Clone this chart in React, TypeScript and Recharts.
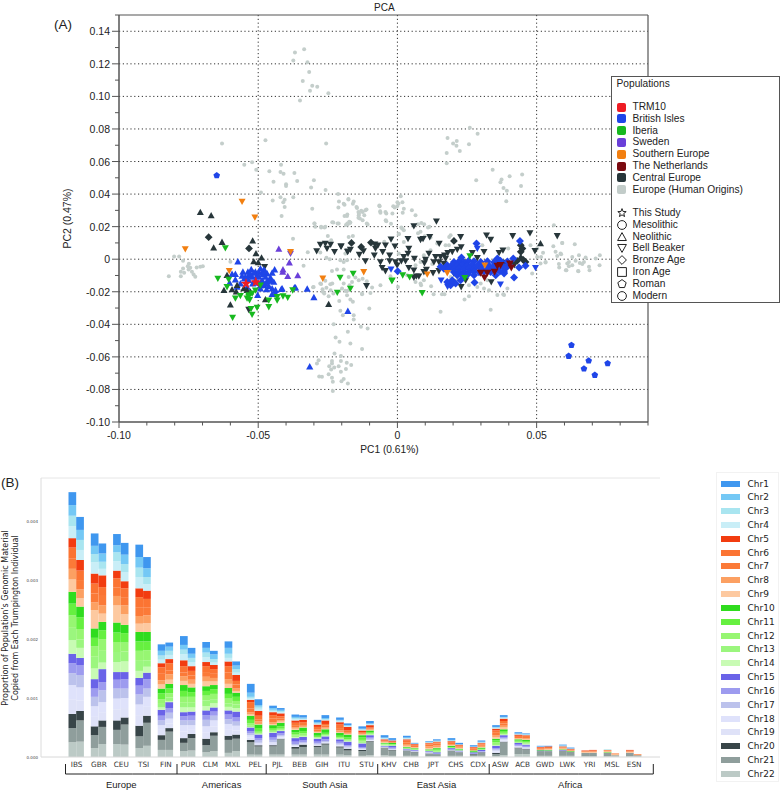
import React from 'react';
import { ScatterChart, Scatter, BarChart, Bar, XAxis, YAxis, CartesianGrid, ReferenceLine, Legend } from 'recharts';

// ---------- Panel A: PCA values, in thousandths of a PC unit, [PC1, PC2] ----------
const humanOrigins = [
[-36.8,127],[-33.5,129],[-37.4,122],[-32.3,121],[-31.7,115],[-34,109.5],[-30.6,106.5],[-28.8,106],[-31.4,103.5],[-24.8,102],[-35,97.5],[-63,71],[-47.4,73],[-25.6,71],[-55,58],[-52.2,59.5],[-50.7,55],[-41.8,58],[-46,54],[-42,53.5],[-40.9,52.5],[-37,53],[-36,48],[-44.5,47.5],[-40,46],[-40,45],[-30,48.5],[-31,44],[-25.8,42.5],[-49,41],[-42,38],[-40.5,36.5],[-44.8,36],[-37.4,38],[-41,35],[-21.3,40],[-21,35.5],[-17.6,37],[-19.3,34],[-15.7,35.5],[-40.5,32],[-30.6,31],[-21.2,31.7],[-14.7,32],[-6.5,33],[-1.5,32.5],[0,35],[-6.2,29.5],[-4.3,29],[-1.8,28],[-14,29],[-12.5,29],[-11.5,30],[-19,26.5],[-18,27.5],[-13.9,27],[-12.5,24],[-4.2,24],[-41.6,26.5],[-14,25.5],[-11,22],[-23.4,22.7],[-21.5,22],[-18,22],[-17.3,23],[-18.5,21],[-29.8,22],[-29.5,20],[-27.4,20],[-25.9,20],
[26,80.8],[28.8,77],[18,74.5],[21.3,72.6],[20,71],[25.7,70.6],[21.2,69.7],[22.4,66.5],[17.7,65.3],[17.7,59],[34.2,55],[44.8,52],[40.3,51],[28.3,48.5],[37.4,49],[37,47.3],[44.4,45],[38.1,43.8],[39.3,42],[39.1,35.6],[1.2,38.7],[0.4,34],[1.8,35],[2.3,31],[1.9,28.6],[5.2,30],[-6.4,32.5],[-6.1,28.6],[-4,28],[-1,31.7],[-0.1,32.5],[-4,23.3],[6.5,27],[-17.6,36.6],[-16,34],[-19,33.5],[-14.5,31.5],[-11.1,30.5],[-13,29.7],[-13.8,28],[-11.9,27],[-18.1,26.6],[-13.5,25],[-16.9,22.5],[-17.9,21.3],[-10.7,21.3],[-2.3,21.7],[8.6,22.3],[7.4,21.5],[11,19.5],[8.3,16.8],[1.4,19.5],[2.3,17.8],[0.5,15.4],[9.8,14.1],[11.9,13.3],[18.6,13.7],[56.2,20.9],[56,8],[59.2,10],[63.7,9.2],[17.3,8.6],[30.5,8.6],[39.8,6.6],[-17.5,13.7],[-16,14.3],[-4.7,10.7],
[56.8,4.5],[58.8,3],[62.8,1.4],[67.6,1],[72.7,2.4],[71.2,0.4],[51.6,1.4],[50.2,1.4],[53.2,-2],[51.4,-2.7],[58,-3],[65.5,-2.3],[62.8,-3.7],[61,-2.7],[67,-1.7],[58.1,-5.1],[61.6,-4.3],[60.5,-6.8],[65,-7.4],[68.8,-4.7],[69,-6.8],[72.6,-3.7],[66.4,-3],[64,-1],[52.3,4],[38,-21.5],
[-82.1,-10.4],[-80.2,1.7],[-78.4,1.7],[-77,-1],[-74.9,-2.8],[-75.3,-4.3],[-77,-5.7],[-75,-6.3],[-77.8,-7.7],[-76.6,-8.3],[-77.8,-10.4],[-73.8,-7.7],[-73.2,-9.4],[-72.6,-10.8],[-72.1,-5.1],[-70.8,-4.7],[-69.9,-4.3],[-74.4,-5.3],[-60,-1.6],[-37.5,12.5],[-33.7,-4],[-32.2,4.3],[-29.8,22],[-27.4,19.5],[-26.2,19.5],[-23,22.5],[-21.1,21.9],[-27.7,4.1],[-25,14.3],[-25.5,0.9],[-24.3,0],[-23.8,11.7],[-23.5,-7.3],[-21.7,-6.3],[-19.3,-6.3],[-27.4,-15.3],[-25.5,-17.5],[-24,-19],[-26.8,-20],[-30.3,-17.3],[-23,-21],[-20.5,-0.6],[-18.1,-0.6],
[-30.1,-17],[-27.7,-15],[-25.9,-13.3],[-24.1,-15.4],[-23.4,-15],[-26.9,-18.4],[-26.3,-21],[-24.7,-22.7],[-20.9,-25.6],[-18.4,-19.6],[-17.2,-16],[-18.1,-22.1],[-16.9,-24.8],[-16,-26.2],[-12.7,-21.5],[-10.1,-30.3],[-20.5,-31.7],[-19.6,-34.4],[-15.7,-34.4],[-15.7,-37],[-22.9,-39.9],[-13.1,-41.5],[-10.7,-42.6],[-17.8,-44.6],[-22.2,-48.1],[-20.8,-50.7],[-16.9,-51.8],[-12.7,-55.2],[-22.6,-57.9],[-20.3,-59.5],[-28.3,-62],[-28.9,-64],[-23.5,-62.6],[-23.5,-64],[-20.3,-62.6],[-18.2,-63.6],[-16.6,-65],[-21.1,-65.7],[-24.5,-65.7],[-22.7,-66.5],[-23.8,-67.7],[-18.5,-67.5],[-20.3,-69.1],[-24.7,-70.6],[-28.1,-72],[-27.1,-72.2],[-23.5,-72.8],[-23.2,-75.3],[-19.3,-73.6],[-20.1,-74.9],[-17.8,-76.3],[-23.2,-81],[15.5,-32.3],[8.5,-16],[12.1,-16.6],[13,-21.5],[16,-21.5],[16.9,-21.5],[-6.1,-16],[-9.1,-17.4],[-9.7,-20.7],
[-17.1,22.3],[-18.7,3.5],[-19.3,-1.7],[-19.9,-18],[-18.7,-19.4],[-17.5,-19],[-19.3,-15],[-16.3,-14],[-13.9,-13],[-17.5,-11],[-15.1,-11.3],[-12.5,-12],[-11,-13.5],[-12.7,-21],[0.2,-17],[-2.5,-10.5],[6.5,-14],[8.3,-15],[9.5,-13],[25.7,-22.7],[24.1,-24.8],[33.5,-31],[25.7,-16],[28.7,-17],[31.1,-18],[32.9,-19],[35.9,-22],[38.3,-22],[39.5,-18],[21.5,-13],[19.1,-11],[12.5,-3],[16.7,-3.7],[8.3,-1.7],[9.5,2.4],[6.5,-3.7],[3.5,-9.9],[0.5,3.5],[2.3,10.6],[0.5,15.7],[1.7,18.8],[7.4,16],[9.6,21.5],[11.5,20],[17.9,4],[15.5,-2.7],[11.9,5.5],[14.3,9.6],[19.1,14.7],[18.5,8.6],[32.3,-13],[29.9,-15],[48.4,-8.8],[47.8,8.6],[50.2,6.5],[59.2,10],[58.6,3.5],[57.4,2],[65.2,2.4],[61.6,-1.7],[60.7,-6.8],[64.9,-7.2],[53.2,-1.7]
];
const centralBeaker = [
[-47.7,-4.7],[-53.4,-31],[14,23.3],[5.9,20.4],[-2.3,12.2],[3.8,12.6],[8.3,12],[9.2,12.6],[11.6,13.7],[22.7,13.7],[32,14.7],[33.5,12],[41.4,14.3],[47.6,16.1],[57.4,14.3],[-20.3,8],[-16.9,5.9],[-17.9,4.5],[-13.7,2.8],[-8.1,9.2],[-7,8.6],[-7.9,6.5],[-4.3,8.6],[-0.9,8],[-5.3,4.5],[-8.3,2.4],[-2.8,2.4],[4.1,6.5],[3.8,3.5],[2.3,1.4],[6.1,0.4],[11.3,3.5],[15,9.6],[22.9,7.5],[21.5,5.9],[19.7,4.5],[18.1,4],[16.9,2.4],[13.7,1.4],[15.5,1.4],[17.3,0.4],[13.1,-1.7],[10.1,-0.2],[9.7,-2.3],[14.9,-1.7],[16.7,-2.7],[-11.5,-1.1],[-6.1,-1.7],[-2.8,-1.1],[-0.7,-1.7],[-0.1,-3.7],[1.4,-1.1],[2.9,-1.1],[-5.5,-5.3],[-4.3,-7.2],[4.1,-5.3],[5.9,-6.8],[6.8,-10.5],[5.9,-11.3],[7.7,-10.5],[10.4,-6.4],[9.5,-7.8],[12.8,-8.4],[14.9,-7.2],[-11.1,-16.4],[22.9,-17],[24.5,-13],[33.7,-14],[28.7,0.8],[26.9,3.9],[31.1,4.5],[36.5,3.9],[37.9,5.5],[49.4,5.1],[20.3,-8.8],[20.9,-5.8],[-27.7,9],[-25.9,9.6],[-24,9],[-25.3,6.6],[-22.6,4.5],[-20.2,8],[-17.8,4.9],[-29,5],[-12.2,5],[26.5,-6.5],[38.5,-2],[42,-3.5]
];
const centralBronze = [[-67.8,13.5],[-53.3,6.6],[-16.5,10],[-9.5,10.2],[20.3,11.2],[44.3,8.6],[44.9,6.5],[44.3,4.5],[45.1,-0.2],[46,-1.7],[-13,7.5],[43,-1]];
const centralNeolithic = [[-70.8,28.9],[-66.9,26.8],[-63,10.5],[-66,7],[-52,11.3],[-50.8,3.5],[-48.8,0.9],[-51.6,-1.4],[-50,-2],[-61.2,-9.8],[-62.3,-19],[-57.6,-16],[-59.4,-18.6],[-57.9,-20],[-55.2,-18],[-54,-19],[-52.8,-20],[-47.4,-24.7],[-60,-28],[-24.7,-27.6],[51.4,9.6],[44.3,1.4]];
const britishNeolithic = [
[-57.3,-1.5],[-58.2,-9.2],[-59.4,-9.2],[-55.5,-7.8],[-53.7,-7.8],[-52.5,-6.2],[-51,-7.8],[-49.2,-5.8],[-48,-6.4],[-49.8,-7.8],[-48.6,-8.4],[-46.8,-8.8],[-44.1,-6.4],[-45,-8.4],[-53.4,-9.8],[-54.6,-10.9],[-52.2,-10.9],[-49.8,-10.9],[-47.4,-10.9],[-45.6,-11.3],[-60.3,-14.5],[-58.2,-12.5],[-48.6,-12.9],[-46.8,-13.5],[-44.4,-14],[-48,-16],[-46.2,-16.6],[-49.2,-16],[-45,-18],[-47,-18.6],[-43.8,-19],[-41.4,-18],[-36.6,-17.4],[-32.4,-18.2],[-30,-23.5],[-45,-21.5],[-43.8,-21],[-50.2,-22.1],[-54,-17],[-51,-12.9],[-53.4,-12.9],[-56.4,-15],[-57.6,-17],[-50.4,-9.8],[-48.3,-9.2],[-46.2,-13.3],[-49.2,-18],[-51.6,-8.4],[-52.8,-8.8],[-17.8,-31.9],[-31.5,-66],[-41.7,-18.4],[-37,-17.4],[-55,-12],[-47.5,-7.5],[-55.8,-10.2],[-50,-14.5],[-52,-15],[-47.3,-15.2],[-45.5,-12.8]
];
const britishRoman = [[-64.9,51.4],[62.5,-52.8],[61.5,-59.5],[68.7,-62.4],[67,-67.3],[70.9,-71.2],[75.5,-64]];
const britishBronze = [
[28.4,9.6],[44,11.2],[23,1],[0.1,-7.4],[46,-4.1],[43.7,-5.1],[41.6,0.4],[35.9,0.4],[41.9,-11.3],[27.7,-14.3],[19.1,-16],[17.9,-14],[19.7,-13],[20.9,-15],[22.7,-13],[15.5,-4.7],[38.3,-7.8],[39.2,-5.1],[38.3,-8.8],[35.3,-9.8],
[20.3,-1.7],[22.1,-1.4],[23.9,-1.9],[25.6,-1],[27.5,-1.2],[29.9,-1.7],[32.3,-1.2],[34.7,-1.9],[37,-0.9],[39.5,-1.4],
[17.9,-3.7],[19.7,-3.4],[21.5,-3.9],[23.3,-3.5],[25.1,-3.8],[26.9,-3.2],[28.7,-3.9],[30.5,-3.4],[32.9,-3.8],[35.3,-3.3],[37.7,-3.7],[40,-3.2],
[16.7,-5.8],[18.5,-5.6],[20.3,-6],[22.1,-5.5],[23.9,-6],[25.7,-5.6],[27.5,-6],[29.9,-5.5],[32.3,-5.9],[34.1,-5.5],[35.9,-6],[38.3,-5.6],
[20.3,-7.8],[22.1,-8],[23.9,-7.6],[25.7,-8],[27.5,-7.6],[29.3,-8],[31.1,-7.7],[33.5,-7.9],[36.8,-7.5],
[21.5,-9.8],[23.3,-10],[25.1,-9.6],[27.5,-9.9]
];
const britishBeaker = [[28.7,6.5],[-2.3,-6.2],[49.6,-5.3],[37,-15.4],[15.7,-12.9],[18,-16.8]];
const iberiaBeaker = [[-61.8,6.9],[-60.6,-12.5],[-64.5,-11.9],[-61.2,-17],[-56.4,-22.5],[-58.2,-24],[-53.4,-22],[-54,-24],[-53.1,-25],[-52.2,-21],[-51,-19.1],[-49.2,-16],[-53.4,-23],[-50.4,-29.7],[-52.6,-30.5],[-52.2,-34],[-46.2,-29.3],[-59.2,-35.8],[-46.2,-25.2],[-43.2,-25.2],[-43.2,-23.1],[-41.1,-22.7],[-39.4,-23.5],[-37.6,-19],[-20.6,-11.3],[-21.6,-20.5],[-16.9,-18],[-15.9,-8.8],[-1.9,-13],[1.9,-9.8],[4.4,-10.9],[8.9,-20.7],[24.2,-11.5],[26,2],[-2,-13.3]];
const swedenNeolithic = [[-42.6,6.3],[-38.8,-2.1],[-41.1,-6.4],[-41.2,-7.8],[-39.4,-10.5],[-35.8,-10]];
const swedenBeaker = [[-38.4,3.5]];
const southernBeaker = [[-55.8,35.4],[-51.2,25.7],[-76.2,6.2],[-60.4,-7.1],[-38.4,4.5],[-26.8,-11.8],[-12.1,-7.8],[10.7,-9.2],[17.9,-8.4],[31.4,-3.7]];
const netherlandsBeaker = [[35.9,-4.1],[37,-3.7],[40.4,-2.7],[40.9,-5.1],[29.9,-8.4],[32.3,-8.4],[31.3,-11.3],[34.9,-7.8]];
const trm10 = [[-54.4,-15],[-50.9,-14.1]];

const majorX = [-0.1, -0.05, 0, 0.05];
const allX = [-0.1,-0.09,-0.08,-0.07,-0.06,-0.05,-0.04,-0.03,-0.02,-0.01,0,0.01,0.02,0.03,0.04,0.05,0.06,0.07,0.08,0.09];
const majorY = [0.14,0.12,0.1,0.08,0.06,0.04,0.02,0,-0.02,-0.04,-0.06,-0.08,-0.1];
const allY = [0.15,0.14,0.13,0.12,0.11,0.1,0.09,0.08,0.07,0.06,0.05,0.04,0.03,0.02,0.01,0,-0.01,-0.02,-0.03,-0.04,-0.05,-0.06,-0.07,-0.08,-0.09,-0.1];

const populationNames = ['TRM10','British Isles','Iberia','Sweden','Southern Europe','The Netherlands','Central Europe','Europe (Human Origins)'];
const populationColors = ['#ee1c24','#1f45e8','#17b91f','#6a3fd9','#f27f10','#7a0a10','#27363a','#c2ccc9'];
const periodNames = ['This Study','Mesolithic','Neolithic','Bell Beaker','Bronze Age','Iron Age','Roman','Modern'];
const periodShapes = ['star','circle','tri','inv','dia','square','pent','circle'];

// ---------- Panel B: copied genomic proportion, units of 1e-5, Chr1..Chr22, two individuals per population ----------
const populations = ['IBS','GBR','CEU','TSI','FIN','PUR','CLM','MXL','PEL','PJL','BEB','GIH','ITU','STU','KHV','CHB','JPT','CHS','CDX','ASW','ACB','GWD','LWK','YRI','MSL','ESN'];
const groupNames = ['Europe','Americas','South Asia','East Asia','Africa'];
const groupStarts = ['IBS','PUR','PJL','KHV','ASW'];
const groupSizes = [5,4,5,5,7];
const chromosomes = ['Chr1','Chr2','Chr3','Chr4','Chr5','Chr6','Chr7','Chr8','Chr9','Chr10','Chr11','Chr12','Chr13','Chr14','Chr15','Chr16','Chr17','Chr18','Chr19','Chr20','Chr21','Chr22'];
const chrColors = ['#3f97ef','#74c8f5','#a9e5f0','#c9eef7','#f23c10','#fb7433','#fb7a38','#fca062','#fdc9a0','#2fdc1e','#66f040','#97f672','#9bf67e','#c8fbb4','#6a63e8','#9d9bef','#bcc2ec','#dfe2fb','#dfe2f8','#384548','#8f9e9c','#bccac6'];
const IBS = [[22,18,18,20,16,18,18,18,21,20,20,21,21,23,16,17,20,24,25,24,24,25],[22,17,17,17,18,16,16,15,14,18,20,18,14,17,12,17,21,22,18,16,36,26]];
const GBR = [[21,14,14,19,17,17,15,13,31,16,14,18,20,18,16,14,16,18,16,15,22,15],[17,14,12,11,20,15,16,14,14,14,15,20,20,11,22,14,20,17,14,11,29,22]];
const CEU = [[19,12,15,16,13,16,14,16,29,17,16,17,17,17,13,15,17,18,19,16,24,22],[20,16,14,15,12,15,14,15,18,14,16,15,17,18,12,16,16,17,16,12,34,21]];
const TSI = [[21,18,16,19,15,17,15,13,14,16,16,17,17,12,13,15,17,18,18,18,20,15],[19,15,12,11,14,15,13,13,15,16,15,17,11,10,11,16,14,17,15,12,39,19]];
const FIN = [[11,8,7,6,7,11,11,7,7,8,10,8,6,4,10,8,8,8,9,8,17,12],[7,7,7,7,7,12,7,9,7,8,8,7,6,2,10,8,10,8,8,6,31,12]];
const PUR = [[15,8,8,10,10,11,6,8,7,10,10,10,8,8,7,7,8,11,11,8,14,10],[10,7,7,7,8,8,7,7,6,8,8,10,8,7,7,8,8,8,7,7,21,11]];
const CLM = [[10,8,8,8,7,10,8,8,8,8,8,8,10,7,8,8,11,11,10,11,12,8],[6,8,6,4,7,8,7,6,6,7,8,9,7,7,7,7,8,10,10,6,26,10]];
const MXL = [[11,10,7,6,8,11,11,8,7,10,8,8,6,6,7,8,8,10,10,7,22,7],[7,6,6,4,10,6,7,4,3,7,7,6,6,6,10,7,7,8,7,7,21,10]];
const PEL = [[15,7,3,2,4,11,6,4,2,7,6,4,2,1,6,4,3,4,4,4,21,4],[10,3,3,4,8,6,4,4,1,6,6,3,1,1,6,4,4,2,2,2,14,4]];
const PJL = [[4,3,2,2,5,6,6,3,2,5,3,2,2,1,8,4,4,3,2,2,14,4],[3,2,2,2,5,4,3,2,2,6,4,2,1,1,4,3,2,2,2,1,26,4]];
const BEB = [[4,2,2,2,4,4,4,2,2,4,3,3,2,2,6,4,2,2,1,3,10,4],[4,2,1,1,4,3,3,2,1,6,4,3,2,1,6,3,2,1,1,4,13,4]];
const GIH = [[4,2,1,1,4,4,3,2,1,5,2,1,1,1,5,3,2,1,1,2,13,4],[5,2,1,1,6,3,3,2,1,6,3,1,1,1,5,3,2,1,1,2,17,4]];
const ITU = [[4,1,2,1,4,6,4,3,1,5,3,1,1,1,4,3,2,2,1,2,12,4],[3,1,1,1,6,3,2,1,1,5,3,2,1,1,6,2,2,1,1,3,8,3]];
const STU = [[4,1,1,1,3,2,1,1,1,4,4,3,2,1,6,2,1,1,1,2,8,2],[4,1,1,1,4,2,1,1,1,3,2,1,1,1,4,2,2,1,1,1,23,3]];
const KHV = [[4,1,1,1,2,1,1,1,1,1,1,1,1,1,1,1,0,1,0,1,12,3],[3,1,0,0,2,1,1,0,0,2,1,1,1,0,3,2,1,1,0,1,9,2]];
const CHB = [[3,1,1,1,2,3,3,3,2,1,1,1,0,0,1,1,1,0,0,1,8,2],[1,1,0,0,1,2,2,1,1,1,1,1,0,0,1,1,0,0,1,1,6,2]];
const JPT = [[1,1,1,0,1,2,3,3,2,1,1,1,0,0,1,1,1,1,0,1,4,1],[2,1,1,0,1,2,3,3,2,2,2,2,1,0,2,1,0,0,0,0,4,1]];
const CHS = [[3,1,1,0,1,2,2,2,1,2,1,1,0,0,2,1,0,1,0,1,8,2],[2,1,0,0,1,2,2,1,1,1,1,1,0,0,1,1,0,0,1,1,5,2]];
const CDX = [[2,1,0,0,1,2,2,1,0,2,1,0,0,0,2,1,0,0,0,1,3,1],[2,1,1,0,1,2,2,2,1,2,1,1,0,0,2,1,1,0,0,1,5,2]];
const ASW = [[3,1,1,1,3,4,4,3,3,3,3,3,2,1,4,2,2,2,2,2,4,1],[3,1,1,1,4,4,4,3,3,3,3,2,1,1,3,2,2,2,2,1,22,3]];
const ACB = [[2,1,1,0,2,2,2,1,1,2,2,1,1,0,3,2,1,1,1,1,10,5],[1,1,1,0,1,2,2,2,1,2,2,2,1,1,2,2,1,1,1,1,8,5]];
const GWD = [[1,1,0,0,1,2,1,1,0,1,0,0,0,0,1,0,0,0,0,0,8,2],[1,0,0,0,1,2,1,1,1,1,0,0,0,0,0,1,0,0,0,0,8,2]];
const LWK = [[1,1,1,0,1,1,1,1,1,1,0,0,0,0,1,0,0,0,0,0,9,2],[1,1,0,0,1,1,1,1,0,1,0,0,0,0,0,0,0,0,0,0,7,2]];
const YRI = [[0,0,0,0,1,0,1,1,1,0,0,0,0,0,0,0,0,0,0,0,6,1],[0,0,0,0,1,1,1,1,1,0,0,0,0,0,0,0,0,0,0,0,6,1]];
const MSL = [[0,0,1,0,0,1,1,1,1,1,0,0,0,0,0,0,0,0,0,0,6,1],[0,0,0,0,0,1,0,1,1,0,0,0,0,0,0,0,0,0,0,0,2,1]];
const ESN = [[0,0,0,0,1,1,1,1,1,0,0,0,0,0,0,0,0,0,0,0,6,1],[0,0,0,0,0,0,1,1,0,0,0,0,0,0,0,0,0,0,0,0,2,1]];
const copied = [IBS,GBR,CEU,TSI,FIN,PUR,CLM,MXL,PEL,PJL,BEB,GIH,ITU,STU,KHV,CHB,JPT,CHS,CDX,ASW,ACB,GWD,LWK,YRI,MSL,ESN];
const bTicks = [0,0.001,0.002,0.003,0.004];

const pts = (list: number[][]) => list.map(([a, b]) => ({ x: a / 1000, y: b / 1000 }));
const barTable = populations.map((name, p) => {
  const row: any = { name };
  chromosomes.forEach((_, c) => {
    row['a' + c] = copied[p][0][c] * 1e-5;
    row['b' + c] = copied[p][1][c] * 1e-5;
  });
  return row;
});

const SANS = '"Liberation Sans", Arial, sans-serif';
const DEJA = '"DejaVu Sans", sans-serif';

function shapePath(kind: string, cx: number, cy: number, r: number) {
  const poly = (p: number[][]) => 'M' + p.map((q) => q[0].toFixed(2) + ',' + q[1].toFixed(2)).join('L') + 'Z';
  if (kind === 'tri') return poly([[cx, cy - r], [cx + r, cy + r * 0.8], [cx - r, cy + r * 0.8]]);
  if (kind === 'inv') return poly([[cx, cy + r], [cx + r, cy - r * 0.8], [cx - r, cy - r * 0.8]]);
  if (kind === 'dia') return poly([[cx, cy - r], [cx + r, cy], [cx, cy + r], [cx - r, cy]]);
  if (kind === 'square') return poly([[cx - r, cy - r], [cx + r, cy - r], [cx + r, cy + r], [cx - r, cy + r]]);
  if (kind === 'pent' || kind === 'star') {
    const out: number[][] = [];
    const n = kind === 'star' ? 10 : 5;
    for (let i = 0; i < n; i++) {
      const rr = kind === 'star' && i % 2 ? r * 0.42 : r;
      const t = -Math.PI / 2 + (i * 2 * Math.PI) / n;
      out.push([cx + rr * Math.cos(t), cy + rr * Math.sin(t)]);
    }
    return poly(out);
  }
  return `M${cx - r},${cy}a${r},${r} 0 1,0 ${2 * r},0a${r},${r} 0 1,0 ${-2 * r},0Z`;
}

const marker = (kind: string, fill: string, r: number) => (props: any) => (
  <path d={shapePath(kind, props.cx, props.cy, r)} fill={fill} />
);

const XTickA = (props: any) => {
  const { x, y, payload } = props;
  const major = majorX.includes(payload.value);
  const label = payload.value === 0 ? '0' : payload.value.toFixed(2);
  return (
    <g>
      <line x1={x} x2={x} y1={y} y2={y + (major ? 6 : 3.5)} stroke="#555" strokeWidth={1} />
      {major && <text x={x} y={y + 17} textAnchor="middle" fontSize={10.5} fontFamily={SANS} fill="#222">{label}</text>}
    </g>
  );
};
const YTickA = (props: any) => {
  const { x, y, payload } = props;
  const major = majorY.includes(payload.value);
  const label = payload.value === 0 ? '0' : payload.value.toFixed(2);
  return (
    <g>
      <line x1={x} x2={x - (major ? 7 : 4)} y1={y} y2={y} stroke="#555" strokeWidth={1} />
      {major && <text x={x - 9} y={y + 4} textAnchor="end" fontSize={10.5} fontFamily={SANS} fill="#222">{label}</text>}
    </g>
  );
};

const LegendA = () => (
  <div style={{ width: 167, height: 225, background: '#fff', border: '1px solid #555', position: 'relative', fontFamily: SANS, fontSize: 10.2, color: '#222' }}>
    <div style={{ position: 'absolute', left: 4.5, top: 1, lineHeight: '12px' }}>Populations</div>
    {populationNames.map((n, i) => (
      <div key={n}>
        <div style={{ position: 'absolute', left: 5, top: 25.5 + i * 11.8, width: 9, height: 9, borderRadius: 2, background: populationColors[i] }} />
        <div style={{ position: 'absolute', left: 20.5, top: 24 + i * 11.8, lineHeight: '12px', whiteSpace: 'nowrap' }}>{n}</div>
      </div>
    ))}
    {periodNames.map((n, i) => (
      <div key={n}>
        <svg style={{ position: 'absolute', left: 3, top: 130 + i * 11.8 }} width={14} height={12}>
          <path d={shapePath(periodShapes[i], 7, 6, 4.4)} fill="none" stroke="#222" strokeWidth={1} />
        </svg>
        <div style={{ position: 'absolute', left: 20.5, top: 130 + i * 11.8, lineHeight: '12px', whiteSpace: 'nowrap' }}>{n}</div>
      </div>
    ))}
  </div>
);

const XTickB = (props: any) => {
  const { x, y, payload } = props;
  const band = 22.3;
  const g = groupStarts.indexOf(payload.value);
  const isLast = payload.value === populations[populations.length - 1];
  return (
    <g>
      <text x={x} y={y + 10} textAnchor="middle" fontSize={7.3} fontFamily={DEJA} fill="#333">{payload.value}</text>
      <line x1={x - band / 2} x2={x + band / 2 + (isLast ? 8 : 0)} y1={y + 17} y2={y + 17} stroke="#222" strokeWidth={1} />
      {g >= 0 && <line x1={x - band / 2} x2={x - band / 2} y1={y + 7} y2={y + 17} stroke="#222" strokeWidth={1} />}
      {isLast && <line x1={x + band / 2 + 8} x2={x + band / 2 + 8} y1={y + 7} y2={y + 17} stroke="#222" strokeWidth={1} />}
      {g >= 0 && (
        <text x={x + ((groupSizes[g] - 1) * band) / 2 + (g > 1 ? 3 : 0)} y={y + 31} textAnchor="middle" fontSize={9.5} fontFamily={SANS} fill="#222">{groupNames[g]}</text>
      )}
    </g>
  );
};
const YTickB = (props: any) => (
  <text x={props.x - 3} y={props.y + 1.5} textAnchor="end" fontSize={4} fontFamily={DEJA} fill="#444">{props.payload.value.toFixed(3)}</text>
);

const LegendB = () => (
  <div style={{ width: 61, height: 308, border: '1px solid #f2f2f2', position: 'relative', fontFamily: DEJA, fontSize: 9, color: '#222' }}>
    {chromosomes.map((c, i) => (
      <div key={c}>
        <div style={{ position: 'absolute', left: 3.5, top: 7.5 + i * 13.83, width: 19, height: 6, background: chrColors[i] }} />
        <div style={{ position: 'absolute', left: 30.5, top: 4.5 + i * 13.83, lineHeight: '12px' }}>{c}</div>
      </div>
    ))}
  </div>
);

const TextAt = ({ left, top, size, font, children, rotate }: any) => (
  <div style={{ position: 'absolute', left, top, fontSize: size, fontFamily: font, color: '#222', whiteSpace: 'nowrap', lineHeight: 1, transform: rotate ? 'translate(-50%,-50%) rotate(-90deg)' : undefined }}>{children}</div>
);

export default function App() {
  return (
    <div style={{ position: 'absolute', left: 0, top: 0, width: 784, height: 791, background: '#fff', overflow: 'hidden' }}>
      <div style={{ position: 'absolute', left: 0, top: 0 }}>
        <ScatterChart width={784} height={460} margin={{ top: 15, right: 136, bottom: 0, left: 59 }}>
          <CartesianGrid horizontalValues={majorY.filter((v) => v !== -0.1)} verticalValues={[-0.05, 0, 0.05]} stroke="#333" strokeDasharray="1.2 2.6" strokeWidth={1} />
          <XAxis type="number" dataKey="x" domain={[-0.1, 0.09]} ticks={allX} interval={0} tick={<XTickA />} tickLine={false} tickSize={0} tickMargin={0} height={38} axisLine={{ stroke: '#555', strokeWidth: 1.5 }}
            label={{ value: 'PC1 (0.61%)', position: 'insideBottom', offset: 7, dx: 6, fontSize: 10.2, fontFamily: SANS, fill: '#222' }} />
          <YAxis type="number" dataKey="y" domain={[-0.1, 0.15]} ticks={allY} interval={0} tick={<YTickA />} tickLine={false} tickSize={0} tickMargin={0} width={60} axisLine={{ stroke: '#555', strokeWidth: 1.5 }}
            label={{ value: 'PC2 (0.47%)', angle: -90, position: 'insideLeft', offset: 8, fontSize: 10.5, fontFamily: SANS, fill: '#222', style: { textAnchor: 'middle' } }} />
          <ReferenceLine y={0.15} stroke="#555" strokeWidth={1.2} />
          <ReferenceLine x={0.09} stroke="#555" strokeWidth={1.2} />
          <Scatter name="Europe (Human Origins)" data={pts(humanOrigins)} shape={marker('circle', '#c4cecb', 2)} isAnimationActive={false} />
          <Scatter name="Central Beaker" data={pts(centralBeaker)} shape={marker('inv', '#27363a', 3.5)} isAnimationActive={false} />
          <Scatter name="Central Bronze" data={pts(centralBronze)} shape={marker('dia', '#27363a', 3.9)} isAnimationActive={false} />
          <Scatter name="British Neolithic" data={pts(britishNeolithic)} shape={marker('tri', '#1f45e8', 3.6)} isAnimationActive={false} />
          <Scatter name="British Bronze" data={pts(britishBronze)} shape={marker('dia', '#1f45e8', 4)} isAnimationActive={false} />
          <Scatter name="British Beaker" data={pts(britishBeaker)} shape={marker('inv', '#1f45e8', 3.5)} isAnimationActive={false} />
          <Scatter name="British Roman" data={pts(britishRoman)} shape={marker('pent', '#1f45e8', 3.5)} isAnimationActive={false} />
          <Scatter name="Central Neolithic" data={pts(centralNeolithic)} shape={marker('tri', '#27363a', 3.5)} isAnimationActive={false} />
          <Scatter name="Iberia" data={pts(iberiaBeaker)} shape={marker('inv', '#17b91f', 3.5)} isAnimationActive={false} />
          <Scatter name="Sweden Neolithic" data={pts(swedenNeolithic)} shape={marker('tri', '#6a3fd9', 3.5)} isAnimationActive={false} />
          <Scatter name="Sweden Beaker" data={pts(swedenBeaker)} shape={marker('inv', '#6a3fd9', 3.5)} isAnimationActive={false} />
          <Scatter name="Southern Europe" data={pts(southernBeaker)} shape={marker('inv', '#f27f10', 3.5)} isAnimationActive={false} />
          <Scatter name="The Netherlands" data={pts(netherlandsBeaker)} shape={marker('inv', '#7a0a10', 3.9)} isAnimationActive={false} />
          <Scatter name="TRM10" data={pts(trm10)} shape={marker('star', '#ee1c24', 5.6)} isAnimationActive={false} />
          <Legend layout="vertical" align="center" verticalAlign="middle" content={<LegendA />} wrapperStyle={{ left: 611, top: 76, width: 169, height: 227, margin: 0 }} />
        </ScatterChart>
      </div>
      <TextAt left={374} top={3} size={10} font={SANS}>PCA</TextAt>
      <TextAt left={54} top={18} size={13.5} font={SANS}>(A)</TextAt>
      <TextAt left={1} top={476} size={13.5} font={SANS}>(B)</TextAt>
      <TextAt left={5.5} top={618} size={8} font={DEJA} rotate>Proportion of Population's Genomic Material</TextAt>
      <TextAt left={16} top={618} size={8} font={DEJA} rotate>Copied from Each Trumpington Individual</TextAt>
      <div style={{ position: 'absolute', left: 0, top: 470 }}>
        <BarChart width={784} height={321} data={barTable} margin={{ top: 8, right: 124, bottom: 0, left: 0 }} barSize={7.7} barGap={0}>
          <XAxis dataKey="name" interval={0} tick={<XTickB />} tickLine={false} tickSize={0} tickMargin={0} height={34} padding={{ left: 24.5, right: 14.7 }} axisLine={{ stroke: '#d8d8d8' }} />
          <YAxis type="number" domain={[0, 0.00473]} ticks={bTicks} interval={0} tick={<YTickB />} tickLine={false} tickSize={0} tickMargin={0} width={41} axisLine={{ stroke: '#dcdcdc' }} />
          <ReferenceLine y={0.00473} stroke="#e6e6e6" />
          {chromosomes.map((c, i) => chromosomes.length - 1 - i).map((c) => (
            <Bar key={'a' + c} dataKey={'a' + c} name={chromosomes[c] + ' a'} stackId="a" fill={chrColors[c]} isAnimationActive={false} />
          ))}
          {chromosomes.map((c, i) => chromosomes.length - 1 - i).map((c) => (
            <Bar key={'b' + c} dataKey={'b' + c} name={chromosomes[c] + ' b'} stackId="b" fill={chrColors[c]} isAnimationActive={false} />
          ))}
          <Legend layout="vertical" align="center" verticalAlign="middle" content={<LegendB />} wrapperStyle={{ left: 716, top: 2, width: 63, height: 310, margin: 0 }} />
        </BarChart>
      </div>
    </div>
  );
}
